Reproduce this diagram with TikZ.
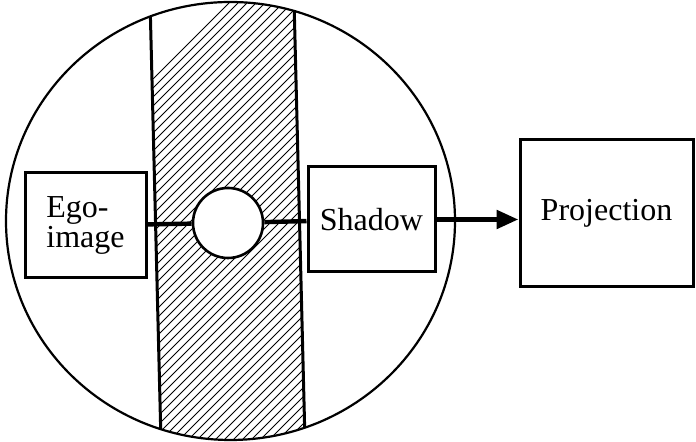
\documentclass[tikz,border=0pt]{standalone}
\usepackage{fontspec}
\setmainfont{Liberation Serif}
\usetikzlibrary{
  arrows.meta,
  positioning,
  calc
}
\tikzset{
  psbox/.style={
    draw, line width=1.5pt, fill=white, align=left, inner sep=2pt,
    font=\fontsize{16}{13}\selectfont
  },
  psring/.style={draw, line width=1.1pt},
  hatch/.style={line width=0.5pt},
  band/.style={line width=1.5pt},
  link/.style={line width=2.2pt},
  projarrow/.style={-{Triangle[length=11pt, width=9pt]}, line width=2.6pt}
}

\begin{document}
\begin{tikzpicture}[x=0.5pt, y=0.5pt]
  \useasboundingbox (0,0) rectangle (696,442);

  % hatched strip through the psyche
  \begin{scope}
    \clip (230.5,221) ellipse [x radius=224.5, y radius=219];
    \clip (150,442) -- (294,442) -- (305,0) -- (161,0) -- cycle;
    \foreach \i in {-40,...,20}
      \draw[hatch] (\i*9+150,0) -- ++(470,470);
  \end{scope}
  \begin{scope}
    \clip (230.5,221) ellipse [x radius=224.5, y radius=219];
    \draw[band] (150,442) -- (161,0);
    \draw[band] (294,442) -- (305,0);
  \end{scope}
  \draw[psring] (230.5,221) ellipse [x radius=224.5, y radius=219];

  % boxes and the hole
  \node[draw, circle, line width=1.3pt, fill=white, minimum size=35pt, inner sep=0pt] (hole) at (228,219) {};
  \node[psbox, minimum width=60.5pt, minimum height=52.5pt] (ego) at (85.5,216.5) {Ego-\\image};
  \node[psbox, minimum width=63.5pt, minimum height=52.5pt, align=center] (shadow) at (371.5,222.5) {Shadow};
  \node[psbox, minimum width=86.5pt, minimum height=73.5pt, align=center] (proj) at (606.5,228.5) {Projection};

  \draw[link] (ego) -- (hole);
  \draw[link] (hole) -- (shadow);
  \draw[projarrow] (shadow.east) -- (shadow.east -| proj.west);
\end{tikzpicture}
\end{document}
